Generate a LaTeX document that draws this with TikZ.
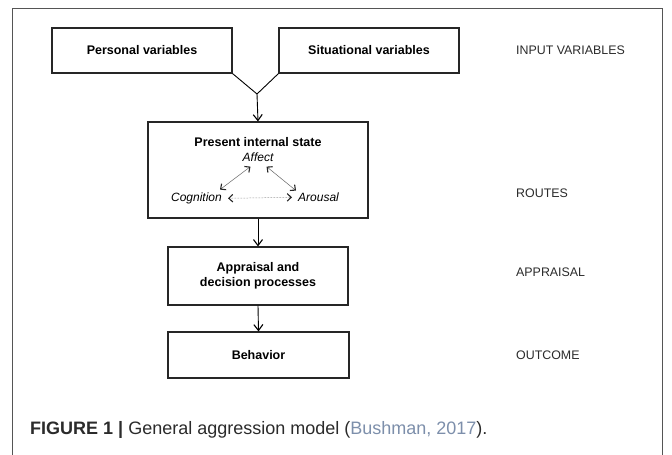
\documentclass[tikz,border=0pt]{standalone}
\usepackage{fontspec}
\setmainfont{Liberation Sans}
\usetikzlibrary{positioning,arrows.meta}
\definecolor{citeblue}{HTML}{7D8FAB}
\definecolor{framegray}{HTML}{555555}
\definecolor{captext}{HTML}{2B2B2B}
\tikzset{stage/.style={draw=black!85,line width=1.1pt,minimum width=180pt,minimum height=45pt,align=center,inner sep=2pt,font=\fontsize{12.5}{15}\selectfont\bfseries},
  level/.style={anchor=west,inner sep=0pt,text=captext,font=\fontsize{12.4}{14}\selectfont},
  route/.style={inner sep=1pt,font=\fontsize{12}{14}\selectfont\itshape},
  flow/.style={-{Straight Barb[length=6pt,width=9pt,line width=1.1pt]},line width=0.9pt},
  link/.style={{Straight Barb[length=4pt,width=7.5pt,line width=1.1pt,black!85]}-{Straight Barb[length=4pt,width=7.5pt,line width=1.1pt,black!85]},line width=0.5pt,black!60}}

\begin{document}
\begin{tikzpicture}[x=1pt,y=-1pt]
                \useasboundingbox (0,0) rectangle (672,455);
                \fill[white] (0,0) rectangle (672,455);
                \draw[framegray,line width=0.8pt] (12.5,455) -- (12.5,8.5) -- (662,8.5) -- (662,455);
                % input variables
                \node[stage] (personal) at (142,50.5) {Personal variables};
                \node[stage] (situational) at (369,50.5) {Situational variables};
                \coordinate (join) at (257,94);
                \draw[line width=0.9pt] (personal.south east) -- (join) -- (situational.south west);
                % present internal state
                \node[stage,minimum width=220pt,minimum height=96pt] (state) at (258,170) {};
                \node[font=\fontsize{12.5}{15}\selectfont\bfseries] (statehead) at (258,142) {Present internal state};
                \node[route] (affect) at (258,157) {Affect};
                \node[route,anchor=base east] (cognition) at (223,201.5) {Cognition};
                \node[route,anchor=base west] (arousal) at (297,201.5) {Arousal};
                \draw[link] ([shift={(-3,-2)}]cognition.north east) -- ([shift={(9,4)}]affect.south west);
                \draw[link] ([shift={(-8,4)}]affect.south east) -- ([shift={(-1,-1)}]arousal.north west);
                \draw[link,densely dotted,shorten <=5pt,shorten >=5pt] (cognition.east) -- (arousal.west);
                \draw[flow] (join) -- (state.north);
                % appraisal and outcome
                \node[stage,minimum height=58pt] (appraisal) at (258,276) {Appraisal and\\decision processes};
                \node[stage,minimum width=181pt,minimum height=46pt] (behavior) at (258.5,355) {Behavior};
                \draw[flow] (state.south) -- (appraisal.north);
                \draw[flow] (appraisal.south) -- (behavior.north);
                % levels
                \node[level] (inputlevel) at (516,50.5) {INPUT VARIABLES};
                \node[level] (routeslevel) at (516,193) {ROUTES};
                \node[level] (appraisallevel) at (516,272) {APPRAISAL};
                \node[level] (outcomelevel) at (516,355) {OUTCOME};
                % caption
                \node[anchor=west,inner sep=0pt,text=captext,font=\fontsize{18}{21}\selectfont] (caption) at (30,430)
                    {\textbf{FIGURE 1 |} General aggression model (\textcolor{citeblue}{Bushman, 2017}).};
            \end{tikzpicture}
\end{document}
